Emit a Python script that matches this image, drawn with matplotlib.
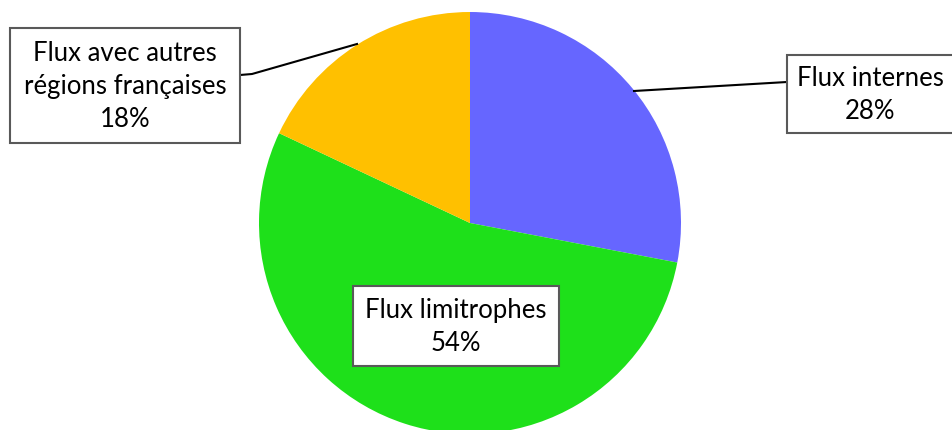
import matplotlib.pyplot as plt
from matplotlib.patches import Rectangle

# Data for the chart
labels = ["Flux internes", "Flux limitrophes", "Flux avec autres\nrégions françaises"]
shares = [28, 54, 18]
colors = ["#6666FF", "#1EE01A", "#FFC000"]

# label boxes in pixel coords (x0, y0 top, width, height), y measured from top
boxes = [(787, 55, 175, 78), (353, 286, 206, 80), (10, 28, 230, 115)]
leaders = [[(634, 91), (787, 82)], None, [(357, 44), (252, 74), (240, 75)]]

W, H = 952, 430
fig = plt.figure(figsize=(W / 100, H / 100), dpi=100)
ax = fig.add_axes([0, 0, 1, 1])

ax.pie(shares, colors=colors, startangle=90, counterclock=False,
       center=(470, H - 223), radius=211, frame=True,
       wedgeprops=dict(linewidth=0))
ax.set_xlim(0, W)
ax.set_ylim(0, H)
ax.set_aspect("equal")
ax.axis("off")

for lab, val, (x0, y0, bw, bh), lead in zip(labels, shares, boxes, leaders):
    ax.add_patch(Rectangle((x0, H - y0 - bh), bw, bh, facecolor="white",
                           edgecolor="#595959", linewidth=1.5, zorder=3))
    ax.text(x0 + bw / 2 - (4 if x0 > 700 else 0), H - y0 - bh / 2 - 1,
            f"{lab}\n{val}%", ha="center", va="center",
            fontsize=18.5, family="Lato", linespacing=1.42, zorder=4)
    if lead:
        xs = [p[0] for p in lead]
        ys = [H - p[1] for p in lead]
        ax.plot(xs, ys, color="black", linewidth=1.5, zorder=2)

fig.savefig("out.png", dpi=100)
